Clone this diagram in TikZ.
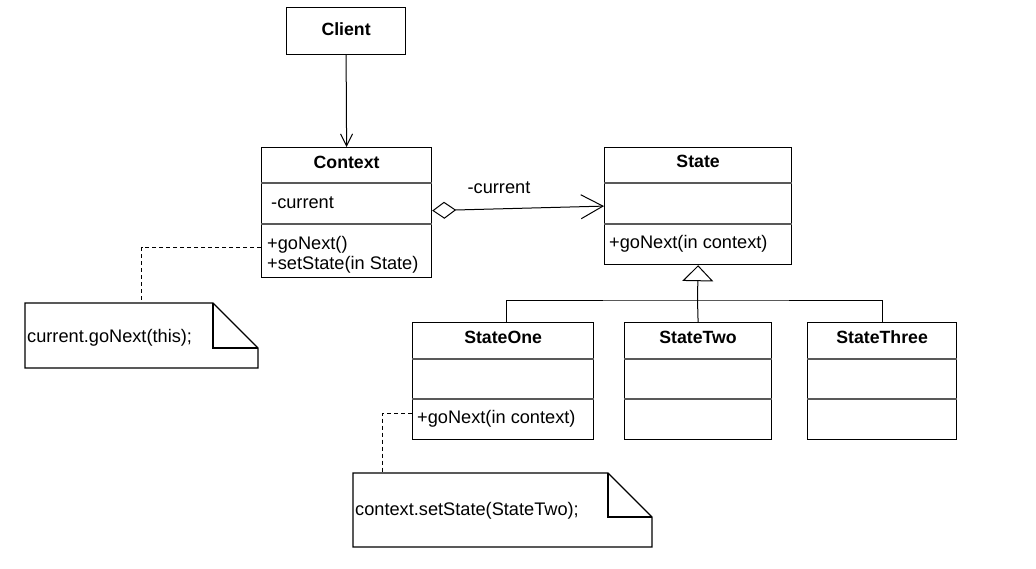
\documentclass[tikz,border=0pt]{standalone}
\usepackage{fontspec}
\setmainfont{Liberation Sans}
\usetikzlibrary{arrows.meta}
\begin{document}
\begin{tikzpicture}[x=1pt,y=-1pt,
  every node/.style={font=\fontsize{18.2}{21}\selectfont, inner sep=0pt},
  box/.style={draw, line width=1.2pt, fill=white, anchor=north west},
  div/.style={draw=black!65, line width=1.6pt},
  cname/.style={anchor=base, font=\fontsize{17.7}{21}\selectfont\bfseries},
  member/.style={anchor=base west},
  assoc/.style={line width=1pt, -{Straight Barb[length=12pt,width=12pt,line width=1pt]}},
  navig/.style={line width=1pt,
    {Diamond[open,length=24pt,width=17pt,line width=1pt]}-{Straight Barb[length=22pt,width=24pt,line width=1pt]}},
  inherit/.style={line width=1pt, -{Triangle[open,length=16pt,width=31pt,line width=1pt]}},
  wire/.style={line width=1pt},
  notelink/.style={line width=1pt, dash pattern=on 4pt off 3pt},
  notebox/.style={anchor=north west, minimum width=#1, outer sep=0pt}
]
\useasboundingbox (0,0) rectangle (1036,568);

% separator line inside a class box, #2 below its top edge
\newcommand\umlsep[2]{\draw[div] ([yshift=-#2]#1.north west) -- ([yshift=-#2]#1.north east);}
% note outline with a folded corner of size #2
\newcommand\umlnote[2]{%
  \draw[line width=1.2pt] (#1.north west) -- ([xshift=-#2]#1.north east)
    -- ([yshift=-#2]#1.north east) -- (#1.south east) -- (#1.south west) -- cycle;
  \draw[line width=1.2pt] ([xshift=-#2]#1.north east) |- ([yshift=-#2]#1.north east);}

% Client
\node[box, minimum width=119pt, minimum height=47pt] (client) at (286,7) {};
\node[cname] at (client.north |- 0,35) {Client};

% Context
\node[box, minimum width=170pt, minimum height=130pt] (context) at (261,147) {};
\umlsep{context}{36pt}
\umlsep{context}{77pt}
\node[cname] at (context.north |- 0,168) {Context};
\node[member] at (271,208) {-current};
\node[member] at (267,249) {+goNext()};
\node[member] at (267,269) {+setState(in State)};

% State
\node[box, minimum width=187pt, minimum height=117pt] (state) at (604,147) {};
\umlsep{state}{36pt}
\umlsep{state}{77pt}
\node[cname] at (state.north |- 0,167) {State};
\node[member] at (609,248) {+goNext(in context)};

% Concrete states
\node[box, minimum width=181pt, minimum height=117pt] (one) at (412,322) {};
\node[box, minimum width=147pt, minimum height=117pt] (two) at (624,322) {};
\node[box, minimum width=149pt, minimum height=117pt] (three) at (807,322) {};
\foreach \s in {one,two,three}{\umlsep{\s}{37pt}\umlsep{\s}{77pt}}
\node[cname] at (one.north |- 0,343) {StateOne};
\node[cname] at (two.north |- 0,343) {StateTwo};
\node[cname] at (three.north |- 0,343) {StateThree};
\node[member] at (417,423) {+goNext(in context)};

% Notes
\node[notebox=233pt, minimum height=65pt] (note1) at (25,303) {};
\umlnote{note1}{45pt}
\node[anchor=base west] (note1text) at (27,342) {current.goNext(this);};
\node[notebox=299pt, minimum height=74pt] (note2) at (353,473) {};
\umlnote{note2}{44pt}
\node[anchor=base west] (note2text) at (355,515) {context.setState(StateTwo);};

% Connectors
\draw[assoc] (client.south) -- (context.north);
\draw[navig] ([yshift=2pt]context.east) -- (state.west);
\node[anchor=base] (role) at (499,193) {-current};

\coordinate (bar) at (697.5,300);
\draw[wire] ([xshift=3.5pt]one.north) |- (bar) -| (three.north);
\draw[wire] (two.north) -- (bar);
\draw[inherit] (bar) -- (state.south);

\draw[notelink] ([yshift=-35pt]context.west) -| (note1.north);
\draw[notelink] ([yshift=-32.5pt]one.west) -| ([xshift=-120.5pt]note2.north);
\end{tikzpicture}
\end{document}
